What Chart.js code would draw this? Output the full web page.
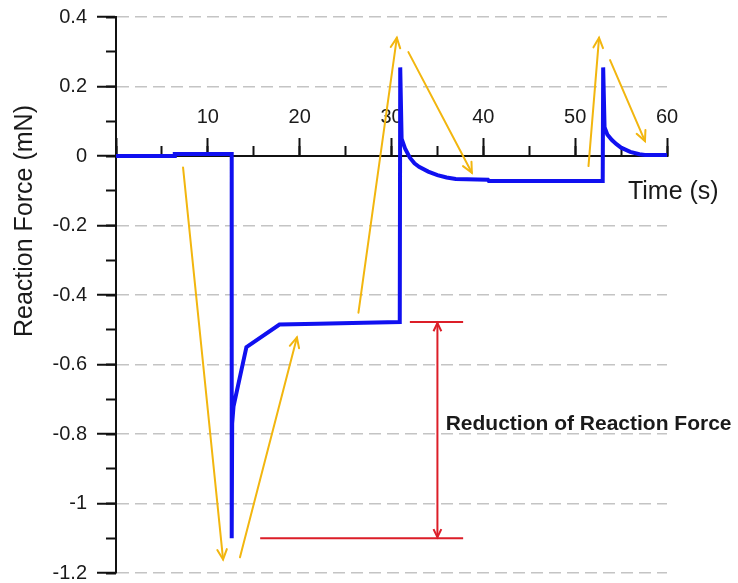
<!DOCTYPE html>
<html>
<head>
<meta charset="utf-8">
<script src="https://cdn.jsdelivr.net/npm/chart.js@4.4.0/dist/chart.umd.min.js"></script>
<style>
  html, body { margin: 0; padding: 0; background: #fff; }
</style>
</head>
<body>
<canvas id="graph" width="738" height="583"></canvas>
<script>
// trace: time (s) / reaction force (mN)
const timeS = [0, 6.4, 6.4, 12.6, 12.6, 12.65, 12.8, 14.2, 17.8, 22, 27, 30.9,
               30.95, 31.1, 31.5, 32, 32.5, 33, 34, 35, 36, 37, 40.5, 40.6, 53.0,
               53.05, 53.2, 53.5, 54, 54.5, 55, 56, 57, 57.6, 60];
const forceMN = [0, 0, 0.006, 0.006, -1.1, -0.77, -0.72, -0.55, -0.485, -0.483, -0.48, -0.478,
                 0.255, 0.05, 0.02, -0.005, -0.021, -0.031, -0.045, -0.055, -0.062, -0.066, -0.068, -0.072, -0.072,
                 0.255, 0.083, 0.062, 0.046, 0.034, 0.024, 0.012, 0.005, 0.003, 0.003];

// axis ranges
const xRange = [0, 60];
const yRange = [-1.2, 0.4];

// yellow arrows [fromTime, fromForce, toTime, toForce], head at the "to" end
const yellowArrows = [
  [7.3, -0.033, 11.66, -1.161],
  [13.5, -1.155, 19.7, -0.522],
  [26.4, -0.451, 30.58, 0.34],
  [31.84, 0.299, 38.75, -0.048],
  [51.45, -0.029, 52.6, 0.34],
  [53.8, 0.276, 57.6, 0.043]
];

// red bracket: plateau force vs. minimum force
const reductionLevels = [-0.478, -1.1];
const reductionText = 'Reduction of Reaction Force';

const FONT = "'Liberation Sans', Arial, sans-serif";
const INK = '#1a1a1a';
Chart.defaults.font.family = FONT;

function drawArrow(ctx, x0, y0, x1, y1, head, both) {
  ctx.beginPath();
  ctx.moveTo(x0, y0);
  ctx.lineTo(x1, y1);
  ctx.stroke();
  const tip = (ax, ay, bx, by) => {
    const a = Math.atan2(by - ay, bx - ax);
    ctx.beginPath();
    ctx.moveTo(bx - head * Math.cos(a - 0.45), by - head * Math.sin(a - 0.45));
    ctx.lineTo(bx, by);
    ctx.lineTo(bx - head * Math.cos(a + 0.45), by - head * Math.sin(a + 0.45));
    ctx.stroke();
  };
  tip(x0, y0, x1, y1);
  if (both) tip(x1, y1, x0, y0);
}

const notes = {
  id: 'notes',
  afterDatasetsDraw(chart) {
    const {ctx, scales: {x, y}} = chart;
    const px = v => x.getPixelForValue(v);
    const py = v => y.getPixelForValue(v);
    ctx.save();
    ctx.lineCap = 'round';

    ctx.strokeStyle = '#f2b60f';
    ctx.lineWidth = 2;
    yellowArrows.forEach(a => drawArrow(ctx, px(a[0]), py(a[1]), px(a[2]), py(a[3]), 11));

    // red bracket
    ctx.strokeStyle = '#dc1e28';
    ctx.lineWidth = 2;
    ctx.lineCap = 'butt';
    ctx.beginPath();
    ctx.moveTo(px(32.0), py(reductionLevels[0]));
    ctx.lineTo(px(37.8), py(reductionLevels[0]));
    ctx.moveTo(px(15.7), py(reductionLevels[1]));
    ctx.lineTo(px(37.8), py(reductionLevels[1]));
    ctx.stroke();
    drawArrow(ctx, px(35.0), py(reductionLevels[0]) + 1, px(35.0), py(reductionLevels[1]) - 1, 9, true);

    ctx.fillStyle = INK;
    ctx.textBaseline = 'alphabetic';
    ctx.textAlign = 'left';
    ctx.font = 'bold 21px ' + FONT;
    ctx.fillText(reductionText, px(35.9), py(-0.789));

    ctx.font = '25px ' + FONT;
    ctx.fillText('Time (s)', px(55.75), py(-0.125));

    ctx.translate(32, 221);
    ctx.rotate(-Math.PI / 2);
    ctx.textAlign = 'center';
    ctx.fillText('Reaction Force (mN)', 0, 0);
    ctx.restore();
  }
};

const tickFont = {size: 20};
const noSpace = s => { s.height = 0; s.paddingLeft = 0; s.paddingRight = 0; };

new Chart(document.getElementById('graph').getContext('2d'), {
  type: 'line',
  data: {
    datasets: [{
      data: timeS.map((t, i) => ({x: t, y: forceMN[i]})),
      borderColor: '#1010f0',
      borderWidth: 4,
      pointRadius: 0,
      tension: 0,
      fill: false
    }]
  },
  options: {
    responsive: false,
    animation: false,
    layout: {padding: {left: 0, right: 71, top: 17, bottom: 10}},
    plugins: {legend: {display: false}, tooltip: {enabled: false}},
    scales: {
      x: {
        type: 'linear', min: xRange[0], max: xRange[1],
        position: {y: 0},
        afterFit: noSpace,
        border: {display: true, color: '#111', width: 2},
        grid: {drawOnChartArea: false, tickLength: -19, tickWidth: 2, tickColor: '#111'},
        ticks: {
          stepSize: 10, padding: -32, color: INK, font: tickFont,
          maxRotation: 0, autoSkip: false,
          callback: v => v === 0 ? '' : String(v)
        }
      },
      x2: {
        type: 'linear', min: xRange[0], max: xRange[1],
        position: {y: 0},
        afterFit: noSpace,
        border: {display: false},
        grid: {drawOnChartArea: false, tickLength: -10, tickWidth: 2, tickColor: '#111'},
        ticks: {stepSize: 5, display: false, callback: () => ''}
      },
      y: {
        min: yRange[0], max: yRange[1],
        position: 'left',
        afterFit: s => { s.width = 116; s.paddingTop = 0; s.paddingBottom = 0; },
        border: {display: true, color: '#111', width: 2, dash: [12, 6]},
        grid: {
          color: c => (c.tick && Math.abs(c.tick.value) < 1e-9) ? 'rgba(0,0,0,0)' : '#c4c4c4',
          lineWidth: 1.5, tickLength: 19, tickWidth: 2, tickColor: '#111', tickBorderDash: []
        },
        ticks: {
          stepSize: 0.2, padding: 10, color: INK, font: tickFont,
          callback: v => String(Math.round(v * 10) / 10)
        }
      },
      y2: {
        min: yRange[0], max: yRange[1],
        position: {x: 0},
        afterFit: s => { s.width = 0; s.paddingTop = 0; s.paddingBottom = 0; },
        border: {display: false},
        grid: {drawOnChartArea: false, tickLength: 10, tickWidth: 2, tickColor: '#111'},
        ticks: {stepSize: 0.1, display: false, callback: () => ''}
      }
    }
  },
  plugins: [notes]
});
</script>
</body>
</html>
